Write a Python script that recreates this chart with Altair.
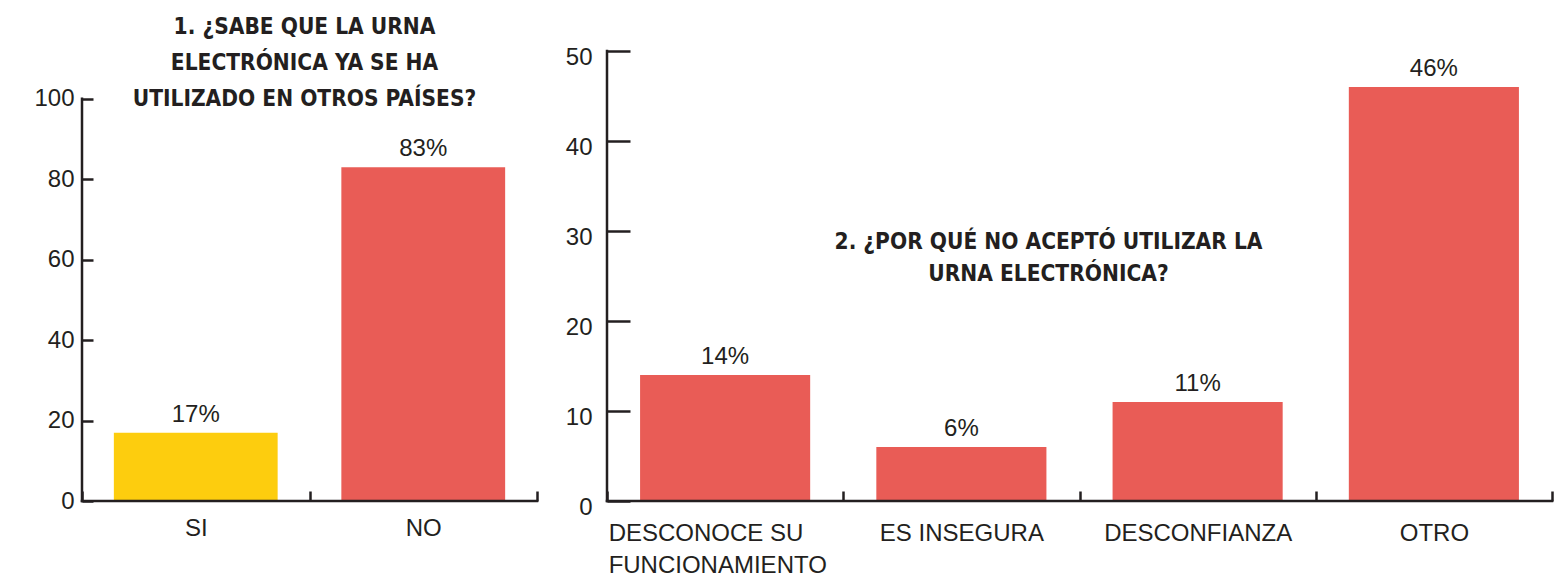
import altair as alt
import pandas as pd

# ---------------- data ----------------
q1_categories = ["SI", "NO"]
q1_values = [17, 83]
q1_colors = ["#FDCD0E", "#E95C56"]
q1_ticks = [0, 20, 40, 60, 80, 100]
q1_title = ["1. ¿SABE QUE LA URNA", "ELECTRÓNICA YA SE HA", "UTILIZADO EN OTROS PAÍSES?"]

q2_categories = ["DESCONOCE SU FUNCIONAMIENTO", "ES INSEGURA", "DESCONFIANZA", "OTRO"]
q2_values = [14, 6, 11, 46]
q2_color = "#E95C56"
q2_ticks = [0, 10, 20, 30, 40, 50]
q2_title = ["2. ¿POR QUÉ NO ACEPTÓ UTILIZAR LA", "URNA ELECTRÓNICA?"]

# ---------------- style ----------------
INK = "#231F20"
FONT = "Liberation Sans"
TFONT = "DejaVu Sans Condensed"
W1, W2, H = 455, 945, 450
SW = 2.5

df1 = pd.DataFrame({"cat": q1_categories, "val": q1_values, "color": q1_colors})
df1["label"] = df1["val"].astype(str) + "%"
df2 = pd.DataFrame({"cat": q2_categories, "val": q2_values})
df2["label"] = df2["val"].astype(str) + "%"
ax1 = pd.DataFrame({"lo": [q1_ticks[0]], "hi": [q1_ticks[-1]]})
ax2 = pd.DataFrame({"lo": [q2_ticks[0]], "hi": [q2_ticks[-1]]})


def x_axis(pad, **kw):
    return alt.Axis(domain=False, tickBand="extent", offset=-10, tickSize=10,
                    tickWidth=SW, tickColor=INK, labelAngle=0, labelPadding=pad,
                    labelLimit=600, labelFont=FONT, labelFontSize=24, labelColor=INK,
                    grid=False, **kw)


def y_axis(values, tick, pad, loff):
    return alt.Axis(values=values, domain=False, grid=False, offset=-tick, tickSize=tick,
                    tickWidth=SW, tickColor=INK, labelPadding=pad, labelOffset=loff,
                    labelFont=FONT, labelFontSize=24, labelColor=INK)


def panel(df, axdf, cats, domain, ticks, width, tick, pad, loff, xaxis, title, color_enc):
    xs = alt.Scale(paddingInner=0, paddingOuter=0)
    ys = alt.Scale(domain=domain, nice=False, zero=True)
    x = alt.X("cat:N", sort=cats, title=None, scale=xs, axis=xaxis)
    y = alt.Y("val:Q", title=None, scale=ys, axis=y_axis(ticks, tick, pad, loff))
    bars = alt.Chart(df).mark_bar(width=alt.RelativeBandSize(0.72)).encode(
        x=x, y=y, color=color_enc)
    text = alt.Chart(df).mark_text(dy=-11, baseline="alphabetic", font=FONT,
                                   fontSize=24, color=INK).encode(
        x=alt.X("cat:N", sort=cats, title=None), y=alt.Y("val:Q", title=None), text="label:N")
    ruley = alt.Chart(axdf).mark_rule(color=INK, strokeWidth=SW, strokeCap="square").encode(
        x=alt.value(0), y=alt.Y("lo:Q", title=None), y2="hi:Q")
    rulex = alt.Chart(axdf).mark_rule(color=INK, strokeWidth=SW, strokeCap="square").encode(
        y=alt.Y("lo:Q", title=None), x=alt.value(0), x2=alt.value(width))
    return alt.layer(bars, ruley, rulex, text).properties(
        width=width, height=H, title=title,
        view=alt.ViewBackground(stroke="transparent", strokeWidth=0),
    )


left = panel(
    df1, ax1, q1_categories, [0, 111.9], q1_ticks, W1, 11, 8, 0, x_axis(15),
    alt.TitleParams(text=q1_title, font=TFONT, fontWeight="bold", fontSize=22.5, color=INK,
                    anchor="middle", frame="group", baseline="alphabetic", lineHeight=36,
                    offset=19, dx=-5, dy=96),
    alt.Color("color:N", scale=None),
)

right = panel(
    df2, ax2, q2_categories, [0, 50], q2_ticks, W2, 23, 15, 6,
    x_axis(
        20,
        labelExpr="datum.label == 'DESCONOCE SU FUNCIONAMIENTO' ? ['DESCONOCE SU', 'FUNCIONAMIENTO'] : datum.label",
        labelLineHeight=32,
        labelAlign={"condition": {"test": "datum.value == 'DESCONOCE SU FUNCIONAMIENTO'", "value": "left"},
                    "value": "center"},
        labelOffset={"condition": {"test": "datum.value == 'DESCONOCE SU FUNCIONAMIENTO'", "value": -117},
                     "value": 0},
    ),
    alt.TitleParams(text=q2_title, font=TFONT, fontWeight="bold", fontSize=22.5, color=INK,
                    anchor="middle", frame="group", baseline="alphabetic", lineHeight=32,
                    offset=0, dy=258, dx=-31),
    alt.value(q2_color),
)

chart = alt.hconcat(left, right, spacing=70, bounds="flush").properties(
    padding={"left": 25, "top": 7, "right": 0, "bottom": 0}
).configure_view(strokeWidth=0, stroke="transparent").configure(background="white")

chart.save("out.html", embed_options={"renderer": "svg", "actions": False})
